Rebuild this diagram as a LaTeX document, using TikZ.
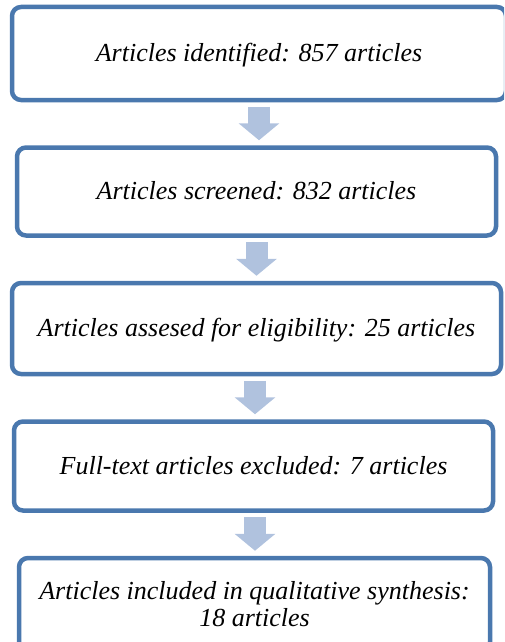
\documentclass[tikz,border=0pt]{standalone}
\usepackage{fontspec}
\setmainfont{Liberation Serif}
\usepackage{tikz}
\usetikzlibrary{
  arrows.meta,
  positioning
}
\definecolor{boxblue}{HTML}{4A78AE}
\definecolor{arrowblue}{HTML}{B0C2DE}

\begin{document}
\begin{tikzpicture}[
  x=1pt, y=1pt,
  node distance=43pt,
  stage/.style={
    draw=boxblue, line width=4.5pt, rounded corners=9pt,
    fill=white, align=center,
    font=\itshape\fontsize{26}{27}\selectfont,
  },
  oneline/.style={text height=18pt, text depth=2pt},
  flow/.style={
    arrowblue, line width=22pt,
    -{Triangle[width=40pt, length=17pt]},
    shorten <=4.5pt, shorten >=5pt,
  },
]
\useasboundingbox (0,0) rectangle (504,-642);
\clip (0,0) rectangle (504,-642);

\node[stage, oneline, minimum width=494pt, minimum height=93pt] (ident) at (259,-53.5)
  {Articles identified: 857 articles};

\node[stage, oneline, minimum width=479pt, minimum height=88pt, below=of ident, xshift=-2.5pt] (screen)
  {Articles screened: 832 articles};

\node[stage, oneline, minimum width=489pt, minimum height=91pt, below=of screen] (elig)
  {Articles assesed for eligibility: 25 articles};

\node[stage, oneline, minimum width=479pt, minimum height=89pt, below=of elig, xshift=-3pt] (excl)
  {Full-text articles excluded: 7 articles};

\node[stage, minimum width=471pt, minimum height=93pt, below=of excl, xshift=1pt] (incl)
  {Articles included in qualitative synthesis:\\ 18 articles};

% Block arrows between stages
\draw[flow] (ident.south) -- (ident.south |- screen.north);
\draw[flow] (screen.south) -- (screen.south |- elig.north);
\draw[flow] ([xshift=-1.5pt]elig.south) -- ([xshift=-1.5pt]elig.south |- excl.north);
\draw[flow] ([xshift=1.5pt]excl.south) -- ([xshift=1.5pt]excl.south |- incl.north);

\end{tikzpicture}
\end{document}
